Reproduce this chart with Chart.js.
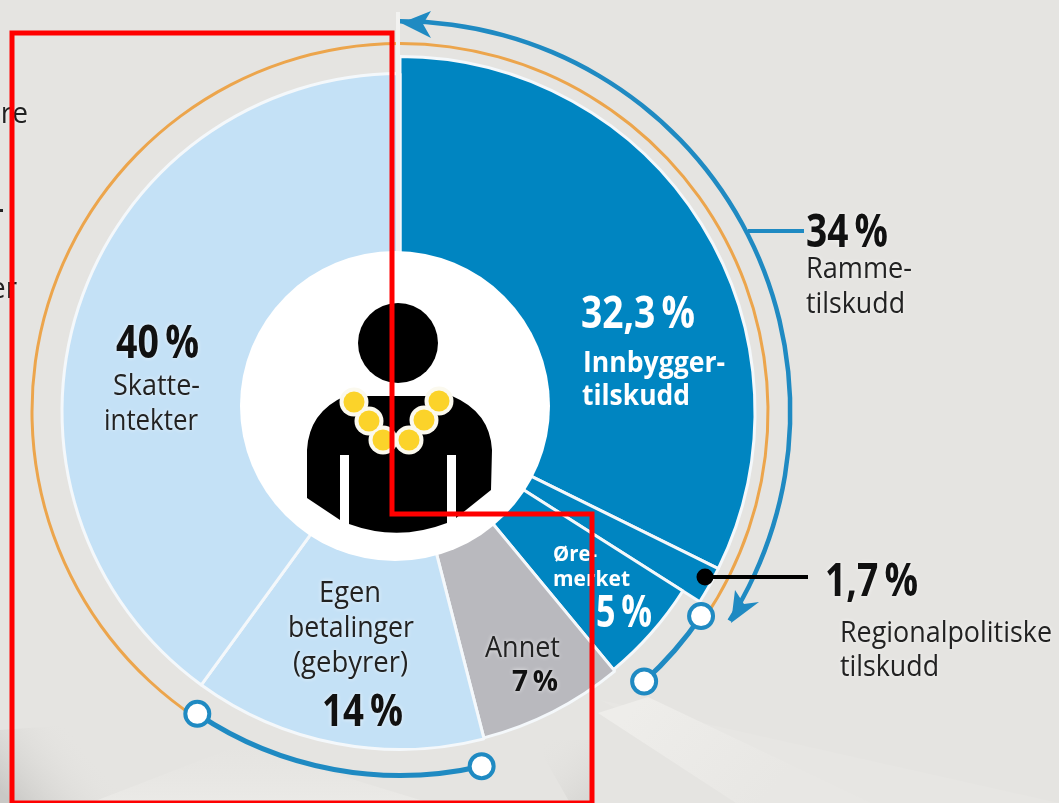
<!DOCTYPE html>
<html><head><meta charset="utf-8">
<script src="https://cdn.jsdelivr.net/npm/chart.js@4"></script>
<style>html,body{margin:0;padding:0;background:#e5e4e1;overflow:hidden}canvas{display:block}
#c{filter:blur(0.7px)}#o{position:absolute;left:0;top:0}</style>
</head><body><canvas id="c" width="1059" height="803"></canvas><canvas id="o" width="1059" height="803"></canvas>
<script>
// --- data ---
const categories = ['Innbyggertilskudd','Regionalpolitiske tilskudd','Øremerket','Annet','Egenbetalinger (gebyrer)','Skatteintekter'];
const shares = [32.3, 1.7, 5, 7, 14, 40];
const bracketNames = ['Rammetilskudd','Øremerket','Annet','Egenbetalinger','Skatteintekter'];
const bracketShares = [34.5, 3.8, 8.1, 13, 40.6];
const arrowShares = [34, 66];
// --- styles ---
const BLUE='#0085c1', LIGHT='#c4e1f6', GREY='#b9b9be', ORANGE='#eca54c', LINE='#1f8ac2';
const sliceColors=[BLUE,BLUE,BLUE,GREY,LIGHT,LIGHT];
const sliceOuter=[355,355,335,337,338,338];
const orangeColors=[ORANGE,'transparent','transparent','transparent',ORANGE];
const bracketColors=['transparent',LINE,'transparent',LINE,'transparent'];
const arrowColors=[LINE,'transparent'];
const FONT='"Open Sans",sans-serif';

const fmt=v=>String(v).replace('.',',')+'\u2009%';
// text, left x, middle y, font size, weight, colour, width on the picture
const texts=[
 [fmt(shares[0]),581,315,45,'bold','#fff',114],
 ['Innbygger-',583,364,28,'bold','#fff',142],
 ['tilskudd',582,397,28,'bold','#fff',108],
 [fmt(shares[5]),116,345,46,'bold','#111',83],
 ['Skatte-',113,387,29,'normal','#222',87],
 ['intekter',104,422,29,'normal','#222',94],
 ['Egen',319,594,29,'normal','#222',62],
 ['betalinger',288,629,29,'normal','#222',126],
 ['(gebyrer)',293,664,29,'normal','#222',115],
 [fmt(shares[4]),322,713,44,'bold','#111',81],
 ['Annet',485,649,29,'normal','#222',75],
 [fmt(shares[3]),512,683,29,'bold','#111',46],
 ['Øre-',553,555,22,'bold','#fff',44],
 ['merket',553,580,22,'bold','#fff',77],
 [fmt(shares[2]),596,614,44,'bold','#fff',56],
 ['34\u2009%',806,234,46,'bold','#111',82],
 ['Ramme-',806,270,29,'normal','#222',106],
 ['tilskudd',806,305,29,'normal','#222',99],
 [fmt(shares[1]),825,583,46,'bold','#111',93],
 ['Regionalpolitiske',840,634,29,'normal','#222',212],
 ['tilskudd',840,668,29,'normal','#222',99],
 ['ere',-15,115,29,'normal','#222',43],
 ['er',-10,290,29,'normal','#222',27],
];
function poly(ctx,pts,fill){ctx.beginPath();pts.forEach((p,i)=>i?ctx.lineTo(p[0],p[1]):ctx.moveTo(p[0],p[1]));ctx.closePath();ctx.fillStyle=fill;ctx.fill();}
function drawFigure(ctx){
 ctx.fillStyle='#fff';ctx.beginPath();ctx.arc(395,406,155,0,Math.PI*2);ctx.fill();
 ctx.fillStyle='#000';ctx.beginPath();ctx.arc(398,343,40,0,Math.PI*2);ctx.fill();
 ctx.beginPath();
 ctx.moveTo(307,498);ctx.lineTo(307,450);ctx.quadraticCurveTo(309,412,345,396);ctx.lineTo(452,396);
 ctx.quadraticCurveTo(490,412,492,450);ctx.lineTo(491,490);ctx.lineTo(456,518);ctx.lineTo(456,455);ctx.lineTo(447,455);
 ctx.lineTo(447,523);ctx.quadraticCurveTo(398,542,349,524);ctx.lineTo(349,455);ctx.lineTo(340,455);ctx.lineTo(340,520);ctx.closePath();ctx.fill();
 const beads=[[354,402],[369,421],[383,440],[409,440],[424,420],[439,401]];
 ctx.fillStyle='#fbf9ee';
 beads.forEach(b=>{ctx.beginPath();ctx.arc(b[0],b[1],14.5,0,Math.PI*2);ctx.fill();});
 ctx.fillStyle='#fbd32a';
 beads.forEach(b=>{ctx.beginPath();ctx.arc(b[0],b[1],10.5,0,Math.PI*2);ctx.fill();});
}
const geometry={
 id:'geometry',
 beforeDatasetsDraw(chart){
  const ring=[[i=>2,i=>sliceOuter[i]],[i=>366.5,i=>369.5],[i=>361.5,i=>366.5],[i=>388,i=>392.5]];
  chart.data.datasets.forEach((d,n)=>{
   chart.getDatasetMeta(n).data.forEach((el,i)=>{el.innerRadius=ring[n][0](i);el.outerRadius=ring[n][1](i);});
  });
 },
 beforeDraw(chart){
  const ctx=chart.ctx;ctx.save();
  ctx.fillStyle='#e5e4e1';ctx.fillRect(0,0,1059,803);
  // faint background rays in the lower part
  poly(ctx,[[600,700],[1059,803],[800,803]],'#e7e6e3');
  const a=ctx.createLinearGradient(640,700,760,803);a.addColorStop(0,'#eeedea');a.addColorStop(1,'#e8e7e4');
  poly(ctx,[[598,713],[648,697],[871,803],[736,803]],a);
  const d=ctx.createLinearGradient(540,745,592,803);d.addColorStop(0,'rgba(229,228,225,0)');d.addColorStop(1,'#d6d5d2');
  poly(ctx,[[534,740],[592,740],[592,803],[570,803]],d);
  const g=ctx.createLinearGradient(0,790,70,730);g.addColorStop(0,'#c9c8c5');g.addColorStop(1,'rgba(229,228,225,0)');
  poly(ctx,[[0,730],[140,720],[240,803],[0,803]],g);
  const h=ctx.createLinearGradient(240,745,240,803);h.addColorStop(0,'rgba(232,231,228,0)');h.addColorStop(1,'#ebeae7');
  poly(ctx,[[90,803],[240,745],[430,803]],h);
  ctx.restore();
 },
 afterDatasetsDraw(chart){
  const ctx=chart.ctx,cx=chart.getDatasetMeta(0).data[0].x,cy=chart.getDatasetMeta(0).data[0].y;
  ctx.save();
  // white divider at the top
  ctx.fillStyle='#f2f2f0';ctx.fillRect(396,12,4,245);
  drawFigure(ctx);
  // bracket markers, at the bracket boundaries
  const meta=chart.getDatasetMeta(2).data;
  const marks=[meta[1].startAngle,meta[1].endAngle,meta[3].startAngle,meta[3].endAngle];
  marks.forEach(a=>{
   const x=cx+364*Math.cos(a),y=cy+364*Math.sin(a);
   ctx.beginPath();ctx.arc(x,y,12,0,Math.PI*2);ctx.fillStyle='#fff';ctx.fill();
   ctx.lineWidth=4;ctx.strokeStyle=LINE;ctx.stroke();
  });
  // arrow heads
  poly(ctx,[[401,23],[431,11],[423,24],[431,38]],LINE);
  poly(ctx,[[731,623],[735,590],[744,604],[759,602]],LINE);
  // leader lines
  ctx.fillStyle=LINE;ctx.fillRect(748,229,56,4);
  ctx.fillStyle='#000';ctx.fillRect(705,575,103,4);
  ctx.beginPath();ctx.arc(705,577,8.5,0,Math.PI*2);ctx.fill();
  // texts, fitted to the width they have on the picture
  ctx.textBaseline='middle';ctx.textAlign='left';
  texts.forEach(t=>{
   ctx.font=t[4]+' '+t[3]+'px '+FONT;ctx.fillStyle=t[5];
   const w=ctx.measureText(t[0]).width;
   ctx.save();
   ctx.translate(t[1],t[2]);ctx.scale(t[6]/w,1);
   if(t[5]!=='#fff'){ctx.shadowColor='rgba(255,255,255,0.75)';ctx.shadowBlur=4;}
   ctx.fillText(t[0],0,0);
   ctx.restore();
  });
  ctx.fillStyle='#222';ctx.fillRect(0,209,3,3);
  ctx.restore();
  // red annotation outline, on its own sharp layer
  const r=document.getElementById('o').getContext('2d');
  r.clearRect(0,0,1059,803);
  r.strokeStyle='#ff0000';r.lineWidth=5;r.lineJoin='miter';
  r.beginPath();r.moveTo(12,33);r.lineTo(392,33);r.lineTo(392,514);r.lineTo(592,514);r.lineTo(592,803);r.lineTo(12,803);r.closePath();r.stroke();
 }
};
new Chart(document.getElementById('c'),{
 type:'doughnut',
 data:{labels:categories,datasets:[
  {label:'Andeler',data:shares,backgroundColor:sliceColors,borderColor:'#f4f8fb',borderWidth:3},
  {label:'Ring',data:bracketShares,backgroundColor:orangeColors,borderWidth:0},
  {label:'Klammer',data:bracketShares,backgroundColor:bracketColors,borderWidth:0},
  {label:'Pil',data:arrowShares,backgroundColor:arrowColors,borderWidth:0}
 ]},
 plugins:[geometry],
 options:{responsive:false,animation:false,cutout:'40%',
  layout:{padding:{left:8,right:267,top:20,bottom:0}},
  plugins:{legend:{display:false},tooltip:{enabled:false}}}
});
</script></body></html>
